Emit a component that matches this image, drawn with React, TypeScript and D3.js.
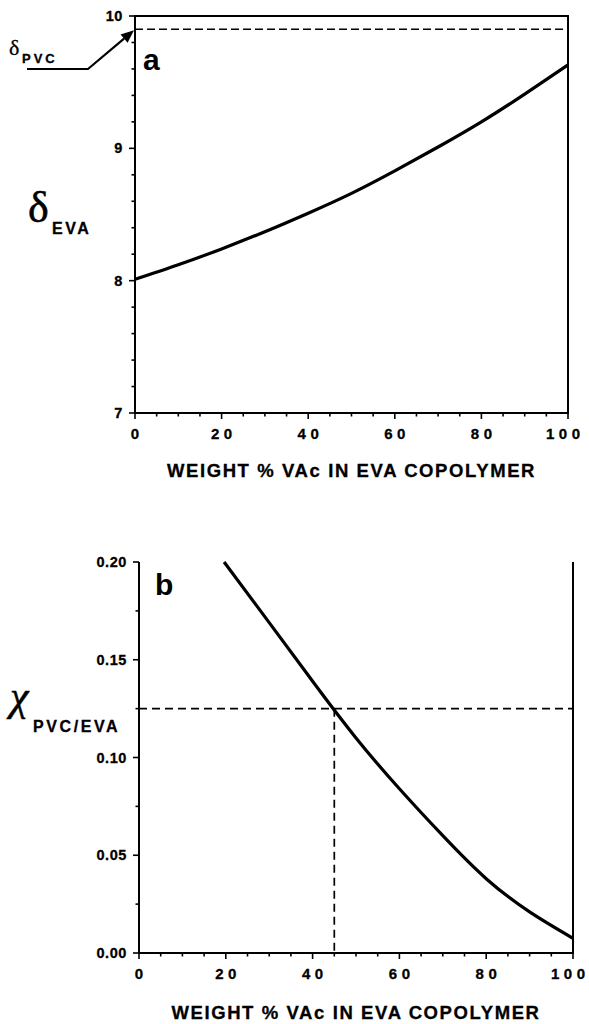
import React from "react";
import * as d3 from "d3";

// Panel a: solubility parameter of EVA vs. vinyl acetate content
const vacA = [0, 10, 20, 30, 40, 50, 60, 70, 80, 90, 100];
const deltaEVA = [8.01, 8.12, 8.24, 8.37, 8.51, 8.66, 8.83, 9.01, 9.2, 9.41, 9.63];
const deltaPVC = 9.9;
const yTicksA = [7, 8, 9, 10];

// Panel b: interaction parameter PVC/EVA vs. vinyl acetate content
const vacB = [19.6, 30, 40, 50, 60, 70, 80, 90, 100];
const chi = [0.2, 0.169, 0.139, 0.11, 0.084, 0.06, 0.038, 0.021, 0.0075];
const chiCritical = 0.125;
const vacCritical = 45;
const yTicksB = [0, 0.05, 0.1, 0.15, 0.2];

const xTicks = [0, 20, 40, 60, 80, 100];
const xTitle = "WEIGHT % VAc IN EVA COPOLYMER";

const SANS = "'Liberation Sans', Arial, Helvetica, sans-serif";
const SERIF = "'Liberation Serif', 'Times New Roman', serif";

// spaced-out label: gap between glyphs only, so the anchor stays centred
function Spaced({ x, y, text, gap, size }: { x: number; y: number; text: string; gap: number; size: number }) {
  return (
    <text x={x} y={y} textAnchor="middle" fontFamily={SANS} fontWeight="bold" fontSize={size} stroke="#000" strokeWidth={0.3}>
      {text.split("").map((c, i) => (
        <tspan key={i} dx={i ? gap : 0}>
          {c}
        </tspan>
      ))}
    </text>
  );
}

type PanelProps = {
  x: d3.ScaleLinear<number, number>;
  y: d3.ScaleLinear<number, number>;
  yTicks: number[];
  yMinorStep: number;
  yFormat: (v: number) => string;
  topBorder: boolean;
  titleOffset: number;
};

function Axes({ x, y, yTicks, yMinorStep, yFormat, topBorder, titleOffset }: PanelProps) {
  const [x0, x1] = x.range();
  const [yb, yt] = y.range();
  const [d0, d1] = y.domain();
  const xMinor = d3.range(0, 100.001, 5);
  const nMinor = Math.round((d1 - d0) / yMinorStep);
  const yMinor = d3.range(0, nMinor + 1).map((i) => d0 + i * yMinorStep);
  return (
    <g>
      {/* frame */}
      <line x1={x0 - 1} x2={x1 + 1} y1={yb} y2={yb} stroke="#000" strokeWidth={2} />
      <line x1={x0} x2={x0} y1={yb} y2={yt} stroke="#000" strokeWidth={2} />
      <line x1={x1} x2={x1} y1={yb} y2={yt} stroke="#000" strokeWidth={2} />
      {topBorder && <line x1={x0 - 1} x2={x1 + 1} y1={yt} y2={yt} stroke="#000" strokeWidth={2} />}
      {/* x ticks */}
      {xMinor.map((v) => (
        <line key={"xm" + v} x1={x(v)} x2={x(v)} y1={yb} y2={yb + (v % 20 === 0 ? 6 : 3.5)} stroke="#000" strokeWidth={1.6} />
      ))}
      {xTicks.map((v) => (
        <Spaced key={"xl" + v} x={Math.min(x(v), x1 - 5)} y={yb + 26} text={String(v)} gap={4.5} size={15} />
      ))}
      {/* y ticks */}
      {yMinor.map((v, i) => (
        <line
          key={"ym" + i}
          x1={x0}
          x2={x0 - (yTicks.some((t) => Math.abs(t - v) < 1e-9) ? 6 : 3.5)}
          y1={y(v)}
          y2={y(v)}
          stroke="#000"
          strokeWidth={1.6}
        />
      ))}
      {yTicks.map((v) => (
        <text
          key={"yl" + v}
          x={x0 - 12}
          y={y(v) + 5}
          textAnchor="end"
          fontFamily={SANS}
          fontWeight="bold"
          fontSize={14.5}
          letterSpacing={0.6}
          stroke="#000"
          strokeWidth={0.3}
        >
          {yFormat(v)}
        </text>
      ))}
      <text
        x={(x0 + x1) / 2}
        y={yb + titleOffset}
        textAnchor="middle"
        fontFamily={SANS}
        fontWeight="bold"
        fontSize={18.5}
        letterSpacing={1.6}
        stroke="#000"
        strokeWidth={0.3}
      >
        {xTitle}
      </text>
    </g>
  );
}

export default function App() {
  const xA = d3.scaleLinear().domain([0, 100]).range([135, 568]);
  const yA = d3.scaleLinear().domain([7, 10]).range([413, 16]);
  const xB = d3.scaleLinear().domain([0, 100]).range([139, 573]);
  const yB = d3.scaleLinear().domain([0, 0.2]).range([953, 562]);

  const lineA = d3
    .line<number>()
    .x((_, i) => xA(vacA[i]))
    .y((d) => yA(d))
    .curve(d3.curveNatural);
  const lineB = d3
    .line<number>()
    .x((_, i) => xB(vacB[i]))
    .y((d) => yB(d))
    .curve(d3.curveNatural);

  // arrow pointing at the PVC solubility level
  const tipX = xA(0) - 1;
  const tipY = yA(deltaPVC) + 1;
  const elbow = { x: 88, y: 69 };
  const ang = Math.atan2(tipY - elbow.y, tipX - elbow.x);
  const headLen = 13;
  const headW = 5.5;
  const bx = tipX - headLen * Math.cos(ang);
  const by = tipY - headLen * Math.sin(ang);
  const px = -Math.sin(ang) * headW;
  const py = Math.cos(ang) * headW;

  return (
    <svg width={589} height={1024} style={{ position: "absolute", left: 0, top: 0, background: "#fff" }}>
      <rect width={589} height={1024} fill="#fff" />

      {/* ---------- panel a ---------- */}
      <Axes x={xA} y={yA} yTicks={yTicksA} yMinorStep={0.2} yFormat={(v) => String(v)} topBorder={true} titleOffset={64} />
      <line x1={xA(0)} x2={xA(100)} y1={yA(deltaPVC)} y2={yA(deltaPVC)} stroke="#000" strokeWidth={1.7} strokeDasharray="8,4" />
      <path d={lineA(deltaEVA) || ""} fill="none" stroke="#000" strokeWidth={3.2} strokeLinejoin="round" />
      <text x={143} y={70} fontFamily={SANS} fontWeight="bold" fontSize={30}>a</text>

      {/* label with arrow */}
      <text x={9} y={55} fontFamily={SERIF} fontSize={22} stroke="#000" strokeWidth={0.3}>δ</text>
      <text x={22} y={63} fontFamily={SANS} fontWeight="bold" fontSize={13} letterSpacing={3} stroke="#000" strokeWidth={0.3}>PVC</text>
      <polyline points={`27,${elbow.y} ${elbow.x},${elbow.y} ${bx},${by}`} fill="none" stroke="#000" strokeWidth={2.2} />
      <polygon points={`${tipX},${tipY} ${bx + px},${by + py} ${bx - px},${by - py}`} fill="#000" />

      {/* y-axis label a */}
      <text x={28} y={222} fontFamily={SERIF} fontSize={44} stroke="#000" strokeWidth={0.6}>δ</text>
      <text x={52} y={234} fontFamily={SANS} fontWeight="bold" fontSize={16} letterSpacing={2.5} stroke="#000" strokeWidth={0.3}>EVA</text>

      {/* ---------- panel b ---------- */}
      <Axes x={xB} y={yB} yTicks={yTicksB} yMinorStep={0.025} yFormat={(v) => v.toFixed(2)} topBorder={false} titleOffset={66} />
      <line x1={xB(0)} x2={xB(100)} y1={yB(chiCritical)} y2={yB(chiCritical)} stroke="#000" strokeWidth={1.7} strokeDasharray="8,5" />
      <line x1={xB(vacCritical)} x2={xB(vacCritical)} y1={yB(chiCritical)} y2={yB(0)} stroke="#000" strokeWidth={1.7} strokeDasharray="8,5" />
      <path d={lineB(chi) || ""} fill="none" stroke="#000" strokeWidth={3.2} strokeLinejoin="round" />
      <text x={155} y={595} fontFamily={SANS} fontWeight="bold" fontSize={30}>b</text>

      {/* y-axis label b */}
      <text x={10} y={710} fontFamily={SERIF} fontStyle="italic" fontSize={42} stroke="#000" strokeWidth={0.5}>χ</text>
      <text x={33} y={732} fontFamily={SANS} fontWeight="bold" fontSize={16} letterSpacing={2.6} stroke="#000" strokeWidth={0.3}>PVC/EVA</text>
    </svg>
  );
}
